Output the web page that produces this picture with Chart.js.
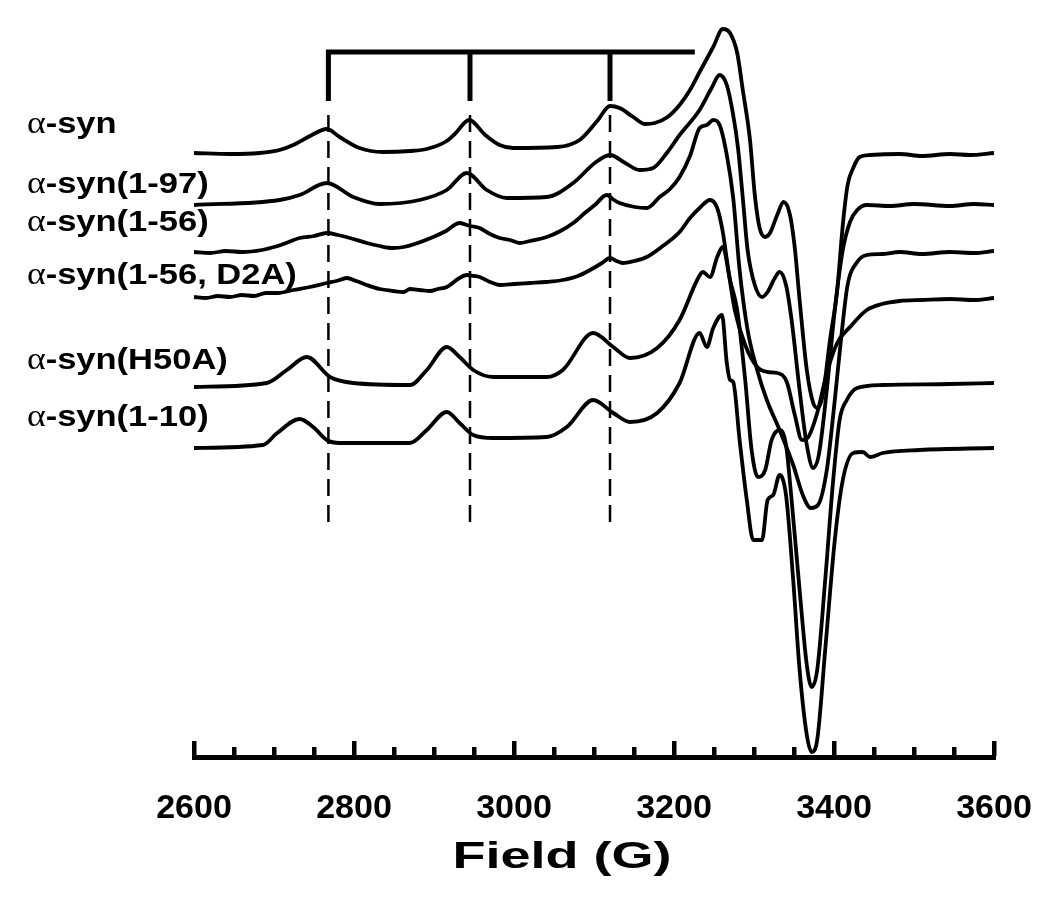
<!DOCTYPE html>
<html><head><meta charset="utf-8">
<script src="https://cdn.jsdelivr.net/npm/chart.js@4"></script>
<style>html,body{margin:0;padding:0;background:#fff;}</style>
</head><body>
<canvas id="c" width="1050" height="912"></canvas>
<script>
// ---------------- DATA ----------------
const seriesNames = ["\u03b1-syn", "\u03b1-syn(1-97)", "\u03b1-syn(1-56)", "\u03b1-syn(1-56, D2A)", "\u03b1-syn(H50A)", "\u03b1-syn(1-10)"];
// vertical stacking offsets of each spectrum (display units)
const offsets = [605, 553, 506, 460, 374, 310];

const fieldA = [2600,2645,2682,2707,2724,2745,2766,2782,2807,2836,2870,2891,2916,2926,2944,2964,2982,2999,3054,3082,3104,3120,3132,3149,3164,3176,3192,3207,3220,3232,3249,3261,3270,3279,3286,3295,3301,3307,3314,3320,3329,3337,3345,3351,3357,3366,3374,3380,3386,3395,3404,3411,3417,3424,3432,3445,3482,3510,3545,3570,3600];
const synA   = [0,-1,0,3,8,17,24,16,5,1,2,4,12,19,33,18,8,5,6,13,32,47,45,36,29,30,36,48,63,81,106,124,120,100,63,13,-42,-75,-84,-80,-62,-49,-62,-95,-147,-217,-250,-255,-242,-187,-137,-72,-32,-15,-4,-2,-1,-3,-1,-2,0];

const fieldB = [2600,2707,2732,2766,2799,2832,2882,2916,2941,2966,2991,3041,3074,3101,3120,3139,3157,3174,3192,3207,3232,3247,3257,3266,3274,3280,3286,3292,3301,3310,3317,3326,3332,3340,3347,3357,3366,3374,3381,3391,3401,3411,3420,3429,3441,3470,3500,3545,3575,3600];
const syn97  = [0,5,10,22,8,1,5,15,32,15,7,8,22,42,50,42,35,37,53,70,95,117,130,120,90,57,7,-45,-80,-92,-87,-73,-67,-80,-115,-185,-240,-263,-250,-185,-105,-45,-17,-5,0,-1,1,-1,1,0];

const fieldC = [2600,2620,2640,2660,2685,2700,2715,2732,2750,2766,2780,2795,2816,2832,2849,2862,2876,2899,2915,2932,2945,2957,2970,2982,2995,3007,3020,3041,3058,3074,3090,3101,3116,3125,3132,3151,3166,3182,3195,3207,3220,3232,3241,3249,3257,3266,3274,3282,3292,3304,3316,3332,3349,3361,3371,3380,3391,3401,3410,3417,3429,3441,3460,3482,3510,3545,3575,3600];
const syn56  = [0,-1,1,0,2,5,9,14,16,19,17,14,9,6,4,5,8,15,21,29,26,24,18,14,12,9,11,15,21,29,40,47,57,52,49,45,44,55,63,75,96,124,127,132,127,97,54,-18,-78,-118,-148,-178,-213,-243,-256,-253,-218,-148,-78,-33,-10,-3,-2,0,-2,0,-1,1];

const fieldD = [2600,2615,2630,2645,2660,2675,2690,2705,2724,2745,2766,2778,2791,2803,2816,2832,2849,2862,2870,2882,2895,2905,2916,2930,2941,2950,2957,2970,2982,3000,3020,3040,3061,3080,3095,3110,3120,3128,3136,3150,3166,3186,3207,3220,3232,3245,3254,3261,3267,3276,3289,3304,3317,3329,3341,3351,3360,3367,3379,3391,3404,3420,3441,3460,3482,3510,3545,3575,3600];
const synD2A = [1,0,2,1,3,2,5,5,8,11,15,17,20,17,13,9,7,6,9,8,7,9,11,19,23,22,21,16,13,14,15,16,18,22,28,35,40,37,35,37,41,52,66,80,90,98,90,66,33,-12,-47,-69,-74,-75,-84,-117,-142,-140,-115,-75,-45,-29,-12,-6,-3,-2,-1,-2,0];

const fieldE = [2600,2691,2716,2741,2770,2799,2870,2891,2916,2932,2949,2974,3041,3061,3099,3124,3145,3179,3207,3229,3236,3245,3254,3261,3270,3279,3289,3297,3305,3314,3322,3332,3340,3347,3357,3366,3372,3379,3389,3399,3407,3416,3429,3461,3545,3600];
const synH50A= [-3,1,14,27,7,1,-1,14,37,27,14,7,7,14,51,37,26,36,64,104,112,107,127,137,104,74,4,-66,-93,-86,-56,-46,-61,-116,-206,-281,-303,-286,-196,-96,-36,-16,-4,-1,0,1];

const fieldF = [2600,2686,2704,2732,2749,2766,2782,2870,2891,2916,2932,2949,2974,3041,3066,3099,3124,3145,3179,3207,3232,3241,3249,3260,3266,3270,3274,3282,3291,3299,3310,3317,3324,3332,3340,3349,3357,3366,3372,3379,3389,3401,3411,3424,3436,3445,3461,3507,3600];
const syn10  = [0,3,15,29,21,8,5,5,18,36,25,13,10,11,21,48,35,26,35,65,115,101,120,133,85,68,66,8,-52,-92,-92,-52,-47,-27,-47,-132,-222,-287,-304,-292,-202,-92,-32,-5,-4,-9,-5,-2,0];

const seriesFields = [fieldA, fieldB, fieldC, fieldD, fieldE, fieldF];
const seriesValues = [synA, syn97, syn56, synD2A, synH50A, syn10];

// hyperfine stick diagram (field positions, G) and its levels
const stickFields = [2768, 2945, 3120];
const stickBarEnd = 3226;
const stickTop = 706, stickBottom = 657;
const dashTop = 646, dashBottom = 236;

// x axis
const xMin = 2600, xMax = 3600;
const tickLabels = ["2600", "2800", "3000", "3200", "3400", "3600"];
const majorStep = 200, minorStep = 50;
const xTitle = "Field (G)";

// ---------------- CHART ----------------
const datasets = [];
seriesValues.forEach((vals, i) => {
  datasets.push({
    label: seriesNames[i],
    data: vals.map((v, k) => ({x: seriesFields[i][k], y: v + offsets[i]})),
    borderColor: '#000', borderWidth: 3.8, pointRadius: 0,
    cubicInterpolationMode: 'monotone', fill: false
  });
});
// stick diagram
datasets.push({
  data: [{x: stickFields[0], y: stickBottom}, {x: stickFields[0], y: stickTop}, {x: stickBarEnd, y: stickTop}],
  borderColor: '#000', borderWidth: 5, pointRadius: 0, tension: 0, borderJoinStyle: 'miter', borderCapStyle: 'butt'
});
stickFields.slice(1).forEach(f => datasets.push({
  data: [{x: f, y: stickBottom}, {x: f, y: stickTop}],
  borderColor: '#000', borderWidth: 5, pointRadius: 0, tension: 0, borderCapStyle: 'butt'
}));
stickFields.forEach(f => datasets.push({
  data: [{x: f, y: dashBottom}, {x: f, y: dashTop}],
  borderColor: '#000', borderWidth: 2.5, pointRadius: 0, tension: 0, borderDash: [17, 9], borderCapStyle: 'butt'
}));

const labelY = [133, 193, 231, 284, 369, 426];

const axisPlugin = {
  id: 'epraxis',
  afterDraw(chart) {
    const ctx = chart.ctx, xs = chart.scales.x, ys = chart.scales.y;
    const y0 = ys.getPixelForValue(0);
    ctx.save();
    ctx.fillStyle = '#000';
    const xl = xs.getPixelForValue(xMin), xr = xs.getPixelForValue(xMax);
    ctx.fillRect(xl - 2, y0 - 3, xr - xl + 4, 5);
    for (let v = xMin; v <= xMax; v += minorStep) {
      const px = xs.getPixelForValue(v);
      const major = (v - xMin) % majorStep === 0;
      const h = major ? 14 : 8;
      ctx.fillRect(px - 2, y0 - 3 - h, 4.5, h + 1);
    }
    ctx.font = 'bold 34px "Liberation Sans", Arial, sans-serif';
    ctx.textAlign = 'center';
    ctx.textBaseline = 'alphabetic';
    tickLabels.forEach((t, i) => {
      const px = xs.getPixelForValue(xMin + i * majorStep);
      ctx.fillText(t, px, 818);
    });
    ctx.save();
    ctx.translate(562, 868);
    ctx.scale(1.5, 1);
    ctx.font = 'bold 36px "Liberation Sans", Arial, sans-serif';
    ctx.fillText(xTitle, 0, 0);
    ctx.restore();
    // series labels
    ctx.textAlign = 'left';
    seriesNames.forEach((name, i) => {
      const x0 = 27, y = labelY[i];
      ctx.save();
      ctx.translate(x0, y);
      ctx.scale(1.15, 1);
      ctx.font = '31px "Liberation Serif", "Times New Roman", serif';
      const a = name[0];
      ctx.fillText(a, 0, 0);
      const w = ctx.measureText(a).width;
      ctx.font = 'bold 30px "Liberation Sans", Arial, sans-serif';
      ctx.fillText(name.slice(1), w, 0);
      ctx.restore();
    });
    ctx.restore();
  }
};

new Chart(document.getElementById('c'), {
  type: 'scatter',
  data: {datasets},
  options: {
    responsive: false, animation: false, devicePixelRatio: 1,
    showLine: true,
    layout: {padding: {left: 194, right: 56, top: 8, bottom: 154}},
    scales: {
      x: {type: 'linear', min: xMin, max: xMax, display: false},
      y: {type: 'linear', min: 0, max: 750, display: false}
    },
    plugins: {legend: {display: false}, tooltip: {enabled: false}},
    elements: {line: {borderColor: '#000'}}
  },
  plugins: [axisPlugin]
});
</script>
</body></html>
